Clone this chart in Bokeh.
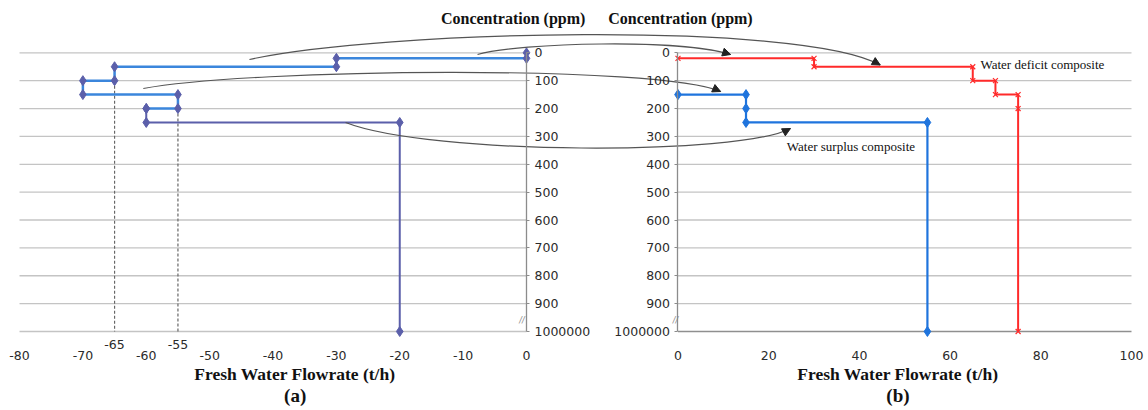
from bokeh.plotting import figure
from bokeh.models import Range1d, LinearAxis, FixedTicker, Label, Arrow, NormalHead
from bokeh.embed import file_html
from bokeh.resources import INLINE

# ---------------- data ----------------
# concentration axis has a break: 1000000 ppm is drawn one step below 900
BREAK_VALUE = 1000000
BREAK_POS = 1000

conc_ticks = [0, 100, 200, 300, 400, 500, 600, 700, 800, 900, 1000000]
a_flow_ticks = [-80, -70, -60, -50, -40, -30, -20, -10, 0]
a_pinch_ticks = [-65, -55]
b_flow_ticks = [0, 20, 40, 60, 80, 100]

# (a) fresh water targeting steps
a_flow = [0, 0, -30, -30, -65, -65, -70, -70, -55, -55, -60]
a_conc = [0, 20, 20, 50, 50, 100, 100, 150, 150, 200, 200]
a_tail_flow = [-60, -60, -20, -20]
a_tail_conc = [200, 250, 250, 1000000]
pinch_flow = [-65, -55]
pinch_conc = [100, 200]

# (b) composites
deficit_flow = [0, 30, 30, 65, 65, 70, 70, 75, 75, 75]
deficit_conc = [20, 20, 50, 50, 100, 100, 150, 150, 200, 1000000]
surplus_flow = [0, 15, 15, 15, 55, 55]
surplus_conc = [150, 150, 200, 250, 250, 1000000]

# annotation curves (x in panel-b flowrate units, y in concentration units)
curves = {
    "x0": [-94.5, -44.2, -117.9, -73.3],
    "y0": [24.0, 6.1, 128.1, 250.1],
    "cx0": [-65.6, -34.7, -94.3, -54.6],
    "cy0": [-80.0, -37.0, 56.3, 368.5],
    "cx1": [27.0, 0.55, -3.9, 13.8],
    "cy1": [-115.9, -51.3, 42.0, 368.5],
    "x1": [44.6, 11.6, 9.4, 24.8],
    "y1": [43.8, 6.1, 138.9, 271.6],
}


def ypos(vals):
    return [BREAK_POS if v >= BREAK_VALUE else v for v in vals]


def plain_labels(ticks):
    return {t: str(t) for t in ticks}


grid_pos = ypos(conc_ticks)
y_labels = {BREAK_POS: "1000000"}

SERIF = "Liberation Serif"
SANS = "DejaVu Sans"

p = figure(width=1148, height=410, output_backend="svg", toolbar_location=None,
           x_range=Range1d(-149.39, 103.75), y_range=Range1d(1283.5, -187.66),
           x_axis_location=None, y_axis_location=None,
           min_border_left=0, min_border_right=0, min_border_top=0, min_border_bottom=0)
p.extra_x_ranges = {"a": Range1d(-83.0, 98.15)}
p.grid.visible = False
p.outline_line_color = None
p.background_fill_color = "white"

# gridlines
p.segment(x0=-80, x1=0, y0=grid_pos, y1=grid_pos, x_range_name="a",
          line_color="#c4c4c4", line_width=1.3)
p.segment(x0=0, x1=100, y0=grid_pos[:-1], y1=grid_pos[:-1],
          line_color="#c4c4c4", line_width=1.3)
p.segment(x0=0, x1=100, y0=grid_pos[-1:], y1=grid_pos[-1:],
          line_color="#8f8f8f", line_width=1.3)

# pinch dashed lines in (a)
p.segment(x0=pinch_flow, x1=pinch_flow, y0=pinch_conc, y1=[BREAK_POS] * len(pinch_flow),
          x_range_name="a", line_color="#666666", line_width=1.2, line_dash="3 2")

# panel (a) series
p.line(a_flow, ypos(a_conc), x_range_name="a", line_color="#3b86dc", line_width=2.5)
p.line(a_tail_flow, ypos(a_tail_conc), x_range_name="a", line_color="#5b5faa", line_width=2)
p.scatter(a_flow, ypos(a_conc), x_range_name="a", marker="diamond", size=10,
          fill_color="#5b5faa", line_color="#5b5faa")
p.scatter(a_tail_flow, ypos(a_tail_conc), x_range_name="a", marker="diamond", size=10,
          fill_color="#5b5faa", line_color="#5b5faa")

# panel (b) series
p.line(deficit_flow, ypos(deficit_conc), line_color="#ff2a2a", line_width=2)
p.scatter(deficit_flow, ypos(deficit_conc), marker="x", size=7, line_color="#ff2a2a", line_width=1.2)
p.line(surplus_flow, ypos(surplus_conc), line_color="#1f74dd", line_width=2.2)
p.scatter(surplus_flow, ypos(surplus_conc), marker="diamond", size=10,
          fill_color="#1f74dd", line_color="#1f74dd")

# curved annotation arrows
p.bezier(x0=curves["x0"], y0=curves["y0"], x1=curves["x1"], y1=curves["y1"],
         cx0=curves["cx0"], cy0=curves["cy0"], cx1=curves["cx1"], cy1=curves["cy1"],
         line_color="#555555", line_width=1.2)
for i in range(len(curves["x1"])):
    p.add_layout(Arrow(end=NormalHead(size=8, fill_color="#222222", line_color="#222222"),
                       x_start=curves["cx1"][i], y_start=curves["cy1"][i],
                       x_end=curves["x1"][i], y_end=curves["y1"][i], line_alpha=0))

# x axes
xa = LinearAxis(x_range_name="a", ticker=FixedTicker(ticks=a_flow_ticks), fixed_location=BREAK_POS,
                bounds=(-80, 7.0), axis_label="Fresh Water Flowrate (t/h)",
                major_label_overrides=plain_labels(a_flow_ticks))
xa_p = LinearAxis(x_range_name="a", ticker=FixedTicker(ticks=a_pinch_ticks), fixed_location=BREAK_POS,
                  major_label_overrides=plain_labels(a_pinch_ticks))
xb = LinearAxis(ticker=FixedTicker(ticks=b_flow_ticks), fixed_location=BREAK_POS,
                bounds=(-3, 100), axis_label="Fresh Water Flowrate (t/h)",
                major_label_overrides=plain_labels(b_flow_ticks))
for ax in (xa, xa_p, xb):
    ax.axis_line_color = None
    ax.major_tick_line_color = None
    ax.minor_tick_line_color = None
    ax.major_label_text_font = SANS
    ax.major_label_text_font_size = "12.5px"
    ax.major_label_text_color = "#2b2b2b"
    ax.major_label_standoff = 14
    ax.axis_label_text_font = SERIF
    ax.axis_label_text_font_style = "bold"
    ax.axis_label_text_font_size = "17.5px"
    ax.axis_label_text_color = "#111111"
    ax.axis_label_standoff = 0
xa_p.major_label_standoff = 3
for ax in (xa, xa_p, xb):
    p.add_layout(ax, "below")

# y axes
ya = LinearAxis(x_range_name="a", fixed_location=0, ticker=FixedTicker(ticks=grid_pos),
                bounds=(0, BREAK_POS), major_label_overrides=y_labels)
yb = LinearAxis(fixed_location=0, ticker=FixedTicker(ticks=grid_pos),
                bounds=(0, BREAK_POS), major_label_overrides=y_labels)
for ax in (ya, yb):
    ax.axis_line_color = "#8c8c8c"
    ax.axis_line_width = 1.3
    ax.major_tick_line_color = "#8c8c8c"
    ax.major_tick_out = 3
    ax.major_tick_in = 0
    ax.minor_tick_line_color = None
    ax.major_label_text_font = SANS
    ax.major_label_text_font_size = "12.5px"
    ax.major_label_text_color = "#2b2b2b"
    ax.major_label_standoff = 5
p.add_layout(ya, "right")
p.add_layout(yb, "left")

# axis titles, break marks, captions
title_style = dict(text_font=SERIF, text_font_style="bold", text_font_size="16px",
                   text_color="#111111", text_align="center", text_baseline="middle")
p.add_layout(Label(x=-2.1, y=-122, x_range_name="a", text="Concentration (ppm)", **title_style))
p.add_layout(Label(x=0.55, y=-122, text="Concentration (ppm)", **title_style))

brk = dict(text="//", text_font=SANS, text_font_style="italic", text_font_size="8px",
           text_color="#888888", text_align="center", text_baseline="middle")
p.add_layout(Label(x=-0.7, y=960, x_range_name="a", **brk))
p.add_layout(Label(x=-0.55, y=960, **brk))

note = dict(text_font=SERIF, text_font_size="13px", text_color="#111111",
            text_align="left", text_baseline="middle")
p.add_layout(Label(x=66.7, y=43, text="Water deficit composite", **note))
p.add_layout(Label(x=24.0, y=336, text="Water surplus composite", **note))

cap = dict(text_font=SERIF, text_font_style="bold", text_font_size="19px",
           text_color="#111111", text_align="center", text_baseline="middle")
p.add_layout(Label(x=-36.5, y=1228, x_range_name="a", text="(a)", **cap))
p.add_layout(Label(x=48.5, y=1228, text="(b)", **cap))

open("out.html", "w").write(file_html(p, INLINE))
